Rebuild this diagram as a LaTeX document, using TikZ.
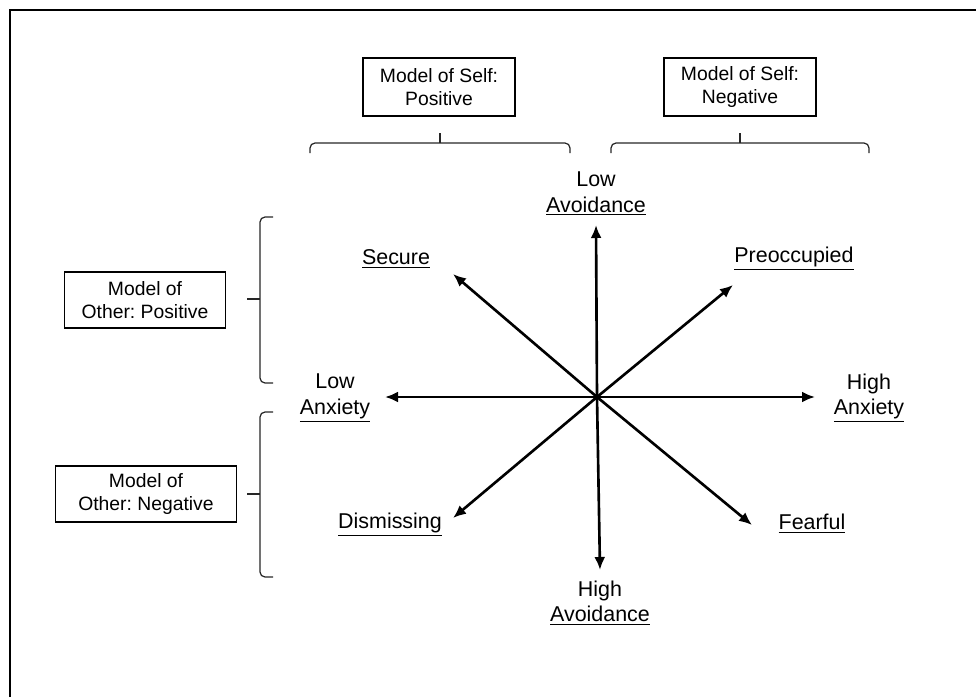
\documentclass[tikz,border=0pt]{standalone}
\usepackage{fontspec}
\setmainfont{Liberation Sans}
\frenchspacing
\usetikzlibrary{arrows.meta}
\tikzset{
  frame/.style={draw=black, line width=1.1pt},
  axis/.style={draw=black, line width=1.5pt, -{Latex[length=2.6mm,width=2.2mm]}},
  box/.style={draw=black, line width=0.8pt, align=center, inner sep=2pt, font=\fontsize{11}{13}\selectfont},
  lab/.style={align=center, inner sep=0pt, font=\fontsize{12.2}{14.4}\selectfont},
  brk/.style={draw=black!85, line width=0.7pt, rounded corners=0.1cm},
}

\begin{document}
\begin{tikzpicture}[x={(0.02cm,0)}, y={(0,-0.02cm)}]
  \useasboundingbox (0,0) rectangle (976,697);
  \draw[frame] (10,697) -- (10,10) -- (976,10);

  % centre of the two dimensions
  \coordinate (O) at (597,397);
  \coordinate (tN) at (596,225);
  \coordinate (tS) at (600,570);
  \coordinate (tW) at (385,397);
  \coordinate (tE) at (815,397);
  \coordinate (tNW) at (453,274);
  \coordinate (tNE) at (733,285);
  \coordinate (tSW) at (453,518);
  \coordinate (tSE) at (752,525);

  \foreach \t in {tN,tS,tW,tE,tNW,tNE,tSW,tSE}
    \draw[axis] (O) -- (\t);

  % axis ends
  \node[lab] (lowav) at (596,194) {Low\\\underline{Avoidance}};
  \node[lab] (highav) at (600,603) {High\\\underline{Avoidance}};
  \node[lab] (lowanx) at (335,398) {Low\\\underline{Anxiety}};
  \node[lab] (highanx) at (869,398) {High\\\underline{Anxiety}};

  % four styles
  \node[lab] (secure) at (396,259) {\underline{Secure}};
  \node[lab] (preocc) at (794,259) {\underline{Preoccupied}};
  \node[lab] (dism) at (390,525) {\underline{Dismissing}};
  \node[lab] (fear) at (812,524) {\underline{Fearful}};

  % model boxes
  \node[box, minimum width=3.04cm, minimum height=1.16cm] (selfpos) at (439,87) {Model of Self:\\Positive};
  \node[box, minimum width=3.04cm, minimum height=1.16cm] (selfneg) at (740,87) {Model of Self:\\Negative};
  \node[box, minimum width=3.22cm, minimum height=1.12cm] (othpos) at (145,300) {Model of\\Other: Positive};
  \node[box, minimum width=3.62cm, minimum height=1.12cm] (othneg) at (146,494) {Model of\\Other: Negative};

  % brackets
  \draw[brk] (310,153) -- (310,143) -- (570,143) -- (570,153);
  \draw[brk] (611,153) -- (611,143) -- (869,143) -- (869,153);
  \draw[brk] (273,217) -- (260,217) -- (260,383) -- (273,383);
  \draw[brk] (273,412) -- (260,412) -- (260,577) -- (273,577);
  \draw[brk] (440,143) -- (440,133) (740,143) -- (740,133);
  \draw[brk] (260,299) -- (247,299) (260,494) -- (247,494);
\end{tikzpicture}
\end{document}
